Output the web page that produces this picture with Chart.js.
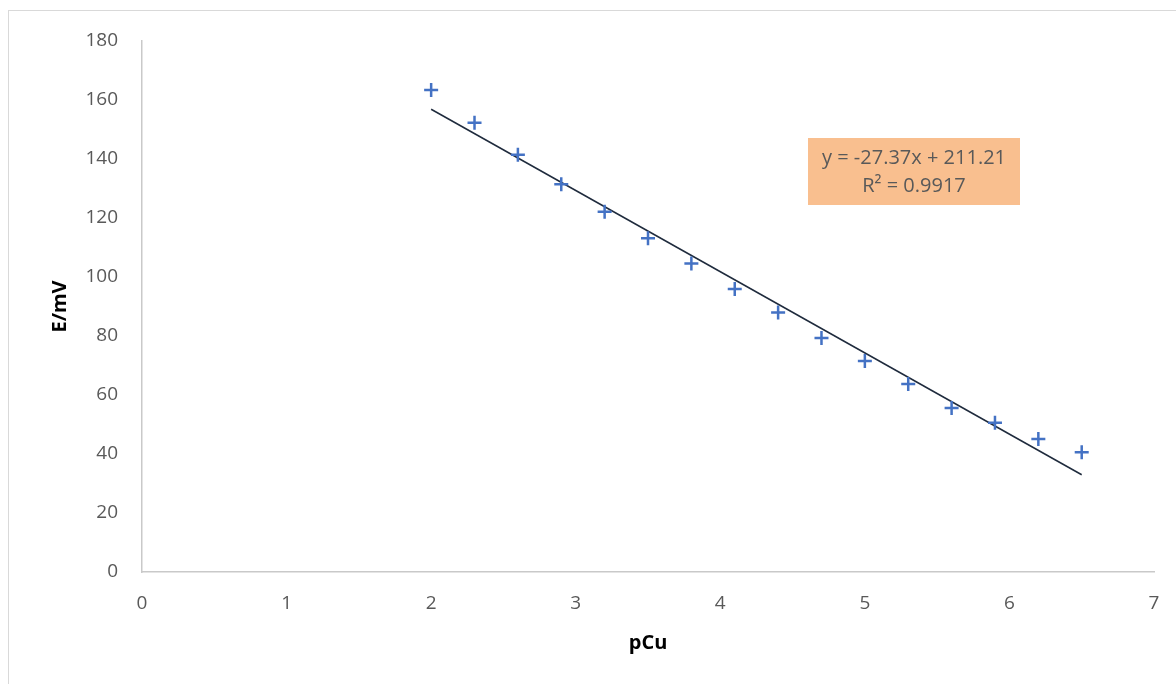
<!DOCTYPE html>
<html>
<head>
<meta charset="utf-8">
<title>E/mV vs pCu</title>
<script src="https://cdn.jsdelivr.net/npm/chart.js@4.4.1/dist/chart.umd.min.js"></script>
<style>
	html, body { margin: 0; padding: 0; background: #ffffff; }
	canvas { display: block; }
</style>
</head>
<body>
<canvas id="chart" width="1176" height="684"></canvas>
<script>
"use strict";

// Data

var pCu = [2.0, 2.3, 2.6, 2.9, 3.2, 3.5, 3.8, 4.1, 4.4, 4.7, 5.0, 5.3, 5.6, 5.9, 6.2, 6.5];
var potential = [163.4, 152.3, 141.4, 131.4, 122.1, 113.1, 104.6, 95.9, 88.0, 79.3,
	71.5, 63.7, 55.6, 50.6, 45.1, 40.6];

var X_TICKS = [0, 1, 2, 3, 4, 5, 6, 7];
var Y_TICKS = [0, 20, 40, 60, 80, 100, 120, 140, 160, 180];

var EQUATION_LINES = ["y = -27.37x + 211.21", "R\u00b2 = 0.9917"];

// Styles

var FONT = "'Open Sans', 'Liberation Sans', sans-serif",
	TICK_COLOR = "#595959",
	AXIS_COLOR = "#c9c9c9",
	MARKER_COLOR = "#4472c4",
	TREND_COLOR = "#1f2b3d",
	LABEL_FILL = "#f9bf8f";

// least squares line over the points, as Excel's linear trendline
function linearFit(xs, ys) {
	var n = xs.length, sx = 0, sy = 0, sxx = 0, sxy = 0;

	for (var i = 0; i < n; i++) {
		sx += xs[i];
		sy += ys[i];
		sxx += xs[i] * xs[i];
		sxy += xs[i] * ys[i];
	}
	var slope = (n * sxy - sx * sy) / (n * sxx - sx * sx);
	return { slope: slope, intercept: (sy - slope * sx) / n };
}

var fit = linearFit(pCu, potential),
	xMin = Math.min.apply(null, pCu),
	xMax = Math.max.apply(null, pCu);

var points = pCu.map(function (x, i) { return { x: x, y: potential[i] }; });
var trend = [xMin, xMax].map(function (x) {
	return { x: x, y: fit.slope * x + fit.intercept };
});

// outer frame of the chart and the trendline label
var decorations = {
	id: "decorations",
	beforeDraw: function (chart) {
		var ctx = chart.ctx;
		ctx.save();
		ctx.strokeStyle = "#d9d9d9";
		ctx.lineWidth = 1;
		ctx.strokeRect(8.5, 10.5, 1200, 700);
		ctx.restore();
	},
	afterDraw: function (chart) {
		var ctx = chart.ctx;
		ctx.save();
		ctx.fillStyle = LABEL_FILL;
		ctx.fillRect(808, 138, 212, 67);
		ctx.fillStyle = TICK_COLOR;
		ctx.font = "20px " + FONT;
		ctx.textAlign = "center";
		ctx.textBaseline = "middle";
		ctx.fillText(EQUATION_LINES[0], 914, 158);
		ctx.fillText(EQUATION_LINES[1], 914, 186);
		ctx.restore();
	}
};

new Chart(document.getElementById("chart"), {
	type: "scatter",
	data: {
		datasets: [{
			label: "E/mV",
			data: points,
			pointStyle: "cross",
			pointRadius: 7,
			pointHoverRadius: 7,
			pointBorderWidth: 2.5,
			borderColor: MARKER_COLOR,
			backgroundColor: MARKER_COLOR,
			order: 1
		}, {
			label: "Linear",
			type: "line",
			data: trend,
			borderColor: TREND_COLOR,
			borderWidth: 1.5,
			pointRadius: 0,
			fill: false,
			order: 2
		}]
	},
	options: {
		responsive: false,
		animation: false,
		devicePixelRatio: 1,
		layout: { padding: { top: 41, right: 22, bottom: 0, left: 0 } },
		plugins: {
			legend: { display: false },
			tooltip: { enabled: false }
		},
		scales: {
			x: {
				type: "linear",
				min: X_TICKS[0],
				max: X_TICKS[X_TICKS.length - 1],
				afterFit: function (scale) {
					// keep the plot edge where the layout padding puts it
					scale.height = 112;
					scale.paddingLeft = 0;
					scale.paddingRight = 0;
				},
				afterBuildTicks: function (scale) {
					scale.ticks = X_TICKS.map(function (v) { return { value: v }; });
				},
				grid: { display: false, drawTicks: false },
				border: { display: true, color: AXIS_COLOR, width: 1.5 },
				ticks: { color: TICK_COLOR, padding: 20, font: { family: FONT, size: 19 } },
				title: {
					display: true,
					text: "pCu",
					color: "#000000",
					padding: { top: 0, bottom: 29 },
					font: { family: FONT, size: 20, weight: "bold" }
				}
			},
			y: {
				type: "linear",
				min: Y_TICKS[0],
				max: Y_TICKS[Y_TICKS.length - 1],
				afterFit: function (scale) {
					scale.width = 142;
					scale.paddingTop = 0;
					scale.paddingBottom = 0;
				},
				afterBuildTicks: function (scale) {
					scale.ticks = Y_TICKS.map(function (v) { return { value: v }; });
				},
				grid: { display: false, drawTicks: false },
				border: { display: true, color: AXIS_COLOR, width: 1.5 },
				ticks: { color: TICK_COLOR, padding: 24, font: { family: FONT, size: 19 } },
				title: {
					display: true,
					text: "E/mV",
					color: "#000000",
					padding: { top: 48, bottom: 0 },
					font: { family: FONT, size: 20, weight: "bold" }
				}
			}
		}
	},
	plugins: [decorations]
});
</script>
</body>
</html>
